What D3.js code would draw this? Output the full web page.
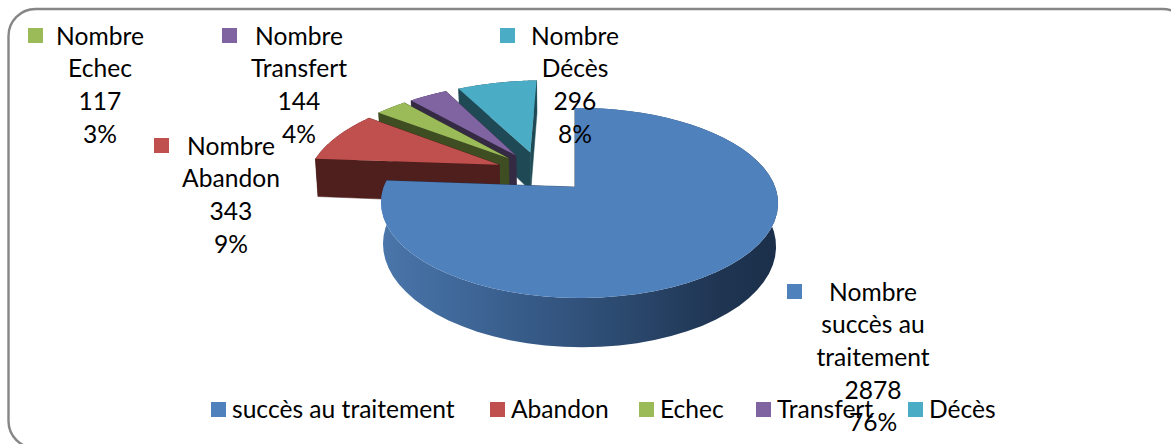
<!DOCTYPE html>
<html><head><meta charset="utf-8">
<script src="https://cdnjs.cloudflare.com/ajax/libs/d3/7.8.5/d3.min.js"></script>
<style>html,body{margin:0;padding:0;background:#fff;overflow:hidden}svg{display:block}text{font-family:Lato,"Open Sans",sans-serif;fill:#000}</style>
</head><body><svg id="c" width="1171" height="444"></svg>
<script>
const categories=["succès au traitement","Abandon","Echec","Transfert","Décès"];
const values=[2878,343,117,144,296];
const percents=["76%","9%","3%","4%","8%"];
const labelFirst=["Nombre","Nombre","Nombre","Nombre","Nombre"];
const labelRest=[["succès au","traitement"],["Abandon"],["Echec"],["Transfert"],["Décès"]];
const topColors=["#4f81bd","#c0504d","#9bbb59","#8064a2","#4bacc6"];
const sideColors=["#1f3552","#4f1f1d","#3f4d23","#352a44","#1f4a55"];
const labelCenter=[873,231,100,299,575];
const labelTop=[292,146,36,36,36];
const labelSwatch=[[787,284],[154,138],[28,28],[222,28],[500,28]];
const legendSwatchX=[211,490,639,756,908];

const svg=d3.select("#c");
const defs=svg.append("defs");
const grad=defs.append("linearGradient").attr("id","wall").attr("gradientUnits","userSpaceOnUse")
  .attr("x1",381).attr("x2",778).attr("y1",0).attr("y2",0);
[[0,"#4a76ab"],[.3,"#3a608f"],[.6,"#2c4a70"],[.85,"#1f3552"],[1,"#1b2f4a"]].forEach(s=>grad.append("stop").attr("offset",s[0]).attr("stop-color",s[1]));

svg.append("rect").attr("x",8.5).attr("y",9).attr("width",1181).attr("height",439).attr("rx",27).attr("ry",27)
  .attr("fill","#fff").attr("stroke","#868686").attr("stroke-width",2.4);

const pie=d3.pie().sort(null).value(d=>d).startAngle(0).endAngle(2*Math.PI);
const arcs=pie(values);
const color=d3.scaleOrdinal(categories,topColors);
const side=d3.scaleOrdinal(categories,sideColors);

// Perspective view of the tilted disc
const ox=575,oy=187,A=195.6,B=92.3,kv=.168,ku=-.0227,explode=.235,T=41,conv=.99;
const outerRadius=1.04,shiftU=-.028;
const scale=(u,v)=>1/(1+kv*v+ku*u);
const proj=(u,v)=>{const s=scale(u,v);return [ox+A*u*s,oy-B*v*s];};
const down=(u,v)=>{const p=proj(u,v),s=scale(u,v);return [ox+(p[0]-ox)*conv,p[1]+T*s];};
const mid0=(arcs[0].startAngle+arcs[0].endAngle)/2;
const off=(a,i)=>{const m=(a.startAngle+a.endAngle)/2;
  return [explode*(Math.sin(m)-Math.sin(mid0))+(i?shiftU:0),explode*(Math.cos(m)-Math.cos(mid0))];};
const line=d3.line();
const rim=(a,o,R)=>d3.range(0,61).map(i=>{const t=a.startAngle+(a.endAngle-a.startAngle)*i/60;
  return [o[0]+R*Math.sin(t),o[1]+R*Math.cos(t)];});

const order=[4,3,2,1,0];
const g=svg.append("g");
order.forEach(i=>{
  const a=arcs[i],o=off(a,i),r=rim(a,o,i?outerRadius:1),c=[o[0],o[1]],name=categories[i];
  const wall=r.map(p=>proj(p[0],p[1])).concat(r.slice().reverse().map(p=>down(p[0],p[1])));
  g.append("path").attr("d",line(wall)+"Z").attr("fill",i===0?"url(#wall)":side(name));
  [r[r.length-1],r[0]].forEach(e=>{
    const q=[proj(c[0],c[1]),proj(e[0],e[1]),down(e[0],e[1]),down(c[0],c[1])];
    g.append("path").attr("d",line(q)+"Z").attr("fill",side(name)).attr("stroke",side(name)).attr("stroke-width",.5);
  });
  const topFace=[proj(c[0],c[1])].concat(r.map(p=>proj(p[0],p[1])));
  g.append("path").attr("d",line(topFace)+"Z").attr("fill",color(name));
});

// Data labels
categories.forEach((name,i)=>{
  svg.append("rect").attr("x",labelSwatch[i][0]).attr("y",labelSwatch[i][1]).attr("width",15).attr("height",15).attr("fill",color(name));
  const lines=[labelFirst[i],...labelRest[i],String(values[i]),percents[i]];
  lines.forEach((t,j)=>{
    svg.append("text").attr("x",labelCenter[i]).attr("y",labelTop[i]+j*32.7).attr("dy","0.35em")
      .attr("text-anchor","middle").attr("font-size",24.6).text(t);
  });
});
// Legend
categories.forEach((name,i)=>{
  svg.append("rect").attr("x",legendSwatchX[i]).attr("y",402).attr("width",15).attr("height",15).attr("fill",color(name));
  svg.append("text").attr("x",legendSwatchX[i]+21).attr("y",409).attr("dy","0.35em").attr("font-size",24.6).text(name);
});
</script></body></html>
